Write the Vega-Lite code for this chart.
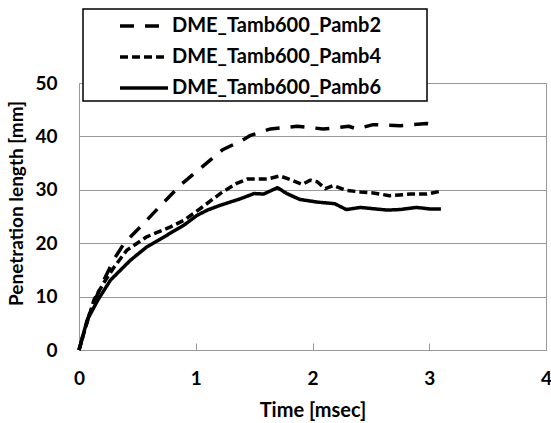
{
  "$schema": "https://vega.github.io/schema/vega-lite/v6.json",
  "width": 467,
  "height": 267,
  "autosize": {"type": "none"},
  "padding": {"left": 79, "top": 83, "right": 5, "bottom": 73},
  "background": "white",
  "config": {
    "view": {"stroke": "#999999", "strokeWidth": 1},
    "font": "Lato",
    "legend": {"strokeWidth": 1.5}
  },
  "data": {
    "values": [
      {"series": "DME_Tamb600_Pamb2", "time": 0, "length": 0},
      {"series": "DME_Tamb600_Pamb2", "time": 0.05, "length": 4},
      {"series": "DME_Tamb600_Pamb2", "time": 0.1, "length": 7.5},
      {"series": "DME_Tamb600_Pamb2", "time": 0.2, "length": 12.5},
      {"series": "DME_Tamb600_Pamb2", "time": 0.3, "length": 17},
      {"series": "DME_Tamb600_Pamb2", "time": 0.39, "length": 20.1},
      {"series": "DME_Tamb600_Pamb2", "time": 0.55, "length": 23.6},
      {"series": "DME_Tamb600_Pamb2", "time": 0.71, "length": 27.3},
      {"series": "DME_Tamb600_Pamb2", "time": 0.87, "length": 30.9},
      {"series": "DME_Tamb600_Pamb2", "time": 1.05, "length": 34.2},
      {"series": "DME_Tamb600_Pamb2", "time": 1.23, "length": 37.5},
      {"series": "DME_Tamb600_Pamb2", "time": 1.4, "length": 39.3},
      {"series": "DME_Tamb600_Pamb2", "time": 1.47, "length": 40.2},
      {"series": "DME_Tamb600_Pamb2", "time": 1.64, "length": 41.4},
      {"series": "DME_Tamb600_Pamb2", "time": 1.87, "length": 41.9},
      {"series": "DME_Tamb600_Pamb2", "time": 2.09, "length": 41.4},
      {"series": "DME_Tamb600_Pamb2", "time": 2.2, "length": 41.6},
      {"series": "DME_Tamb600_Pamb2", "time": 2.31, "length": 41.9},
      {"series": "DME_Tamb600_Pamb2", "time": 2.38, "length": 41.4},
      {"series": "DME_Tamb600_Pamb2", "time": 2.52, "length": 42.2},
      {"series": "DME_Tamb600_Pamb2", "time": 2.75, "length": 42},
      {"series": "DME_Tamb600_Pamb2", "time": 2.98, "length": 42.4},
      {"series": "DME_Tamb600_Pamb2", "time": 3.05, "length": 42.2},
      {"series": "DME_Tamb600_Pamb4", "time": 0, "length": 0},
      {"series": "DME_Tamb600_Pamb4", "time": 0.06, "length": 4.5},
      {"series": "DME_Tamb600_Pamb4", "time": 0.13, "length": 9.5},
      {"series": "DME_Tamb600_Pamb4", "time": 0.21, "length": 12.5},
      {"series": "DME_Tamb600_Pamb4", "time": 0.3, "length": 15.5},
      {"series": "DME_Tamb600_Pamb4", "time": 0.41, "length": 18.7},
      {"series": "DME_Tamb600_Pamb4", "time": 0.58, "length": 21.2},
      {"series": "DME_Tamb600_Pamb4", "time": 0.78, "length": 23},
      {"series": "DME_Tamb600_Pamb4", "time": 0.9, "length": 24.3},
      {"series": "DME_Tamb600_Pamb4", "time": 1.04, "length": 26.5},
      {"series": "DME_Tamb600_Pamb4", "time": 1.21, "length": 29.3},
      {"series": "DME_Tamb600_Pamb4", "time": 1.35, "length": 31.2},
      {"series": "DME_Tamb600_Pamb4", "time": 1.44, "length": 32},
      {"series": "DME_Tamb600_Pamb4", "time": 1.61, "length": 32},
      {"series": "DME_Tamb600_Pamb4", "time": 1.72, "length": 32.6},
      {"series": "DME_Tamb600_Pamb4", "time": 1.81, "length": 31.9},
      {"series": "DME_Tamb600_Pamb4", "time": 1.91, "length": 31},
      {"series": "DME_Tamb600_Pamb4", "time": 1.98, "length": 31.8},
      {"series": "DME_Tamb600_Pamb4", "time": 2.04, "length": 31.5},
      {"series": "DME_Tamb600_Pamb4", "time": 2.11, "length": 30.2},
      {"series": "DME_Tamb600_Pamb4", "time": 2.18, "length": 30.8},
      {"series": "DME_Tamb600_Pamb4", "time": 2.29, "length": 29.9},
      {"series": "DME_Tamb600_Pamb4", "time": 2.41, "length": 29.6},
      {"series": "DME_Tamb600_Pamb4", "time": 2.52, "length": 29.4},
      {"series": "DME_Tamb600_Pamb4", "time": 2.66, "length": 28.9},
      {"series": "DME_Tamb600_Pamb4", "time": 2.84, "length": 29.2},
      {"series": "DME_Tamb600_Pamb4", "time": 2.98, "length": 29.2},
      {"series": "DME_Tamb600_Pamb4", "time": 3.09, "length": 29.7},
      {"series": "DME_Tamb600_Pamb6", "time": 0, "length": 0},
      {"series": "DME_Tamb600_Pamb6", "time": 0.07, "length": 5.6},
      {"series": "DME_Tamb600_Pamb6", "time": 0.16, "length": 9.3},
      {"series": "DME_Tamb600_Pamb6", "time": 0.27, "length": 13.1},
      {"series": "DME_Tamb600_Pamb6", "time": 0.44, "length": 16.8},
      {"series": "DME_Tamb600_Pamb6", "time": 0.58, "length": 19.3},
      {"series": "DME_Tamb600_Pamb6", "time": 0.73, "length": 21.2},
      {"series": "DME_Tamb600_Pamb6", "time": 0.9, "length": 23.4},
      {"series": "DME_Tamb600_Pamb6", "time": 1.01, "length": 25.2},
      {"series": "DME_Tamb600_Pamb6", "time": 1.1, "length": 26.2},
      {"series": "DME_Tamb600_Pamb6", "time": 1.21, "length": 27.1},
      {"series": "DME_Tamb600_Pamb6", "time": 1.38, "length": 28.3},
      {"series": "DME_Tamb600_Pamb6", "time": 1.5, "length": 29.3},
      {"series": "DME_Tamb600_Pamb6", "time": 1.58, "length": 29.2},
      {"series": "DME_Tamb600_Pamb6", "time": 1.7, "length": 30.4},
      {"series": "DME_Tamb600_Pamb6", "time": 1.78, "length": 29.3},
      {"series": "DME_Tamb600_Pamb6", "time": 1.89, "length": 28.2},
      {"series": "DME_Tamb600_Pamb6", "time": 2.04, "length": 27.7},
      {"series": "DME_Tamb600_Pamb6", "time": 2.19, "length": 27.4},
      {"series": "DME_Tamb600_Pamb6", "time": 2.29, "length": 26.3},
      {"series": "DME_Tamb600_Pamb6", "time": 2.41, "length": 26.7},
      {"series": "DME_Tamb600_Pamb6", "time": 2.64, "length": 26.2},
      {"series": "DME_Tamb600_Pamb6", "time": 2.75, "length": 26.3},
      {"series": "DME_Tamb600_Pamb6", "time": 2.89, "length": 26.7},
      {"series": "DME_Tamb600_Pamb6", "time": 3.01, "length": 26.4},
      {"series": "DME_Tamb600_Pamb6", "time": 3.1, "length": 26.4}
    ]
  },
  "mark": {"type": "line", "color": "black", "strokeWidth": 3.5, "strokeJoin": "round"},
  "encoding": {
    "x": {
      "field": "time",
      "type": "quantitative",
      "scale": {"domain": [0, 4], "nice": false},
      "axis": {
        "title": "Time [msec]",
        "values": [0, 1, 2, 3, 4],
        "format": "d",
        "grid": false,
        "domain": false,
        "ticks": true,
        "tickSize": -7,
        "tickColor": "#999999",
        "labelFlush": false,
        "labelFont": "Lato",
        "labelFontWeight": "bold",
        "labelFontSize": 19,
        "labelColor": "black",
        "labelPadding": 26,
        "titleFont": "Lato",
        "titleFontSize": 20,
        "titleFontWeight": "bold",
        "titleColor": "black",
        "titlePadding": 12
      }
    },
    "y": {
      "field": "length",
      "type": "quantitative",
      "scale": {"domain": [0, 50], "nice": false},
      "axis": {
        "title": "Penetration length [mm]",
        "values": [0, 10, 20, 30, 40, 50],
        "format": "d",
        "grid": true,
        "gridColor": "#999999",
        "gridWidth": 1,
        "domain": false,
        "ticks": false,
        "labelFlush": false,
        "labelFont": "Lato",
        "labelFontWeight": "bold",
        "labelFontSize": 19,
        "labelColor": "black",
        "labelPadding": 22,
        "titleFont": "Lato",
        "titleFontSize": 19,
        "titleFontWeight": "bold",
        "titleColor": "black",
        "titlePadding": 8,
        "titleY": 120
      }
    },
    "strokeDash": {
      "field": "series",
      "type": "nominal",
      "scale": {
        "domain": ["DME_Tamb600_Pamb2", "DME_Tamb600_Pamb4", "DME_Tamb600_Pamb6"],
        "range": [[14, 11], [8, 4], [1, 0]]
      },
      "legend": {
        "title": null,
        "orient": "none",
        "legendX": 4,
        "legendY": -74,
        "direction": "vertical",
        "fillColor": "white",
        "strokeColor": "black",
        "padding": 3,
        "symbolType": "M-2,0H2M22.7,0h0",
        "symbolSize": 576,
        "symbolStrokeWidth": 3.5,
        "symbolStrokeColor": "black",
        "symbolFillColor": "transparent",
        "symbolOffset": 44,
        "labelOffset": 14,
        "labelFont": "Lato",
        "labelFontWeight": "bold",
        "labelFontSize": 20,
        "labelColor": "black",
        "labelLimit": 400,
        "rowPadding": 7
      }
    }
  }
}
